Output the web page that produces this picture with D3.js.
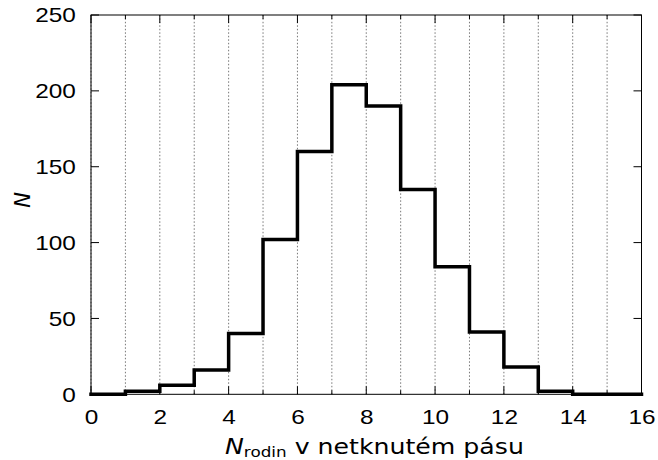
<!DOCTYPE html>
<html><head><meta charset="utf-8">
<script src="https://cdn.jsdelivr.net/npm/d3@7"></script>
<style>body{margin:0;background:#fff}</style>
</head><body>
<svg id="c" width="658" height="460"></svg>
<script>
const binStarts = [0,1,2,3,4,5,6,7,8,9,10,11,12,13,14,15];
const counts = [0,2,6,16,40,102,160,204,190,135,84,41,18,2,0,0];
const xTicks = [0,2,4,6,8,10,12,14,16];
const yTicks = [0,50,100,150,200,250];

const W = 658, H = 460;
const m = {l:91, r:658-641.5, t:15, b:460-394.3};
const svg = d3.select("#c");
const x = d3.scaleLinear().domain([0,16]).range([m.l, W-m.r]);
const y = d3.scaleLinear().domain([0,250]).range([H-m.b, m.t]);
const SX = 1.16; // horizontal stretch of text as in the reference

// grid
const g = svg.append("g");
g.selectAll("line.grid").data(d3.range(0,17)).join("line")
  .attr("x1", d=>x(d)).attr("x2", d=>x(d))
  .attr("y1", y(0)).attr("y2", y(250))
  .attr("stroke","#777").attr("stroke-width",1).attr("stroke-dasharray","1.5,2");

// ticks
const tickLabelFont = "Liberation Sans, Arial, sans-serif";
const xt = svg.append("g").attr("transform",`translate(0,${y(0)})`)
  .call(d3.axisBottom(x).tickValues(xTicks).tickSize(0).tickPadding(15).tickFormat(d3.format("d")));
xt.select(".domain").remove();
xt.selectAll("text").attr("font-family",tickLabelFont).attr("font-size",21).attr("fill","#000")
  .attr("transform",`scale(${SX},1)`);

const yt = svg.append("g").attr("transform",`translate(${x(0)},0)`)
  .call(d3.axisLeft(y).tickValues(yTicks).tickSize(0).tickPadding(13).tickFormat(d3.format("d")));
yt.select(".domain").remove();
yt.selectAll("text").attr("font-family",tickLabelFont).attr("font-size",21).attr("fill","#000")
  .attr("transform",`scale(${SX},1)`);

// inward tick marks
const tk = svg.append("g").attr("stroke","#000").attr("stroke-width",1);
d3.range(0,17).forEach(v=>{
  const len = v%2===0 ? 8 : 4;
  tk.append("line").attr("x1",x(v)).attr("x2",x(v)).attr("y1",y(0)).attr("y2",y(0)-len);
  tk.append("line").attr("x1",x(v)).attr("x2",x(v)).attr("y1",y(250)).attr("y2",y(250)+len);
});
yTicks.forEach(v=>{
  tk.append("line").attr("x1",x(0)).attr("x2",x(0)+8).attr("y1",y(v)).attr("y2",y(v));
  tk.append("line").attr("x1",x(16)).attr("x2",x(16)-8).attr("y1",y(v)).attr("y2",y(v));
});

// frame
svg.append("rect").attr("x",x(0)).attr("y",y(250)).attr("width",x(16)-x(0)).attr("height",y(0)-y(250))
  .attr("fill","none").attr("stroke","#000").attr("stroke-width",1);

// step histogram
const pts = binStarts.map((b,i)=>[b,counts[i]]);
pts.push([binStarts[binStarts.length-1]+1, counts[counts.length-1]]);
const line = d3.line().x(d=>x(d[0])).y(d=>y(d[1])).curve(d3.curveStepAfter);
svg.append("path").attr("d",line(pts)).attr("fill","none").attr("stroke","#000")
  .attr("stroke-width",3.5).attr("stroke-linejoin","miter").attr("stroke-linecap","square");

// axis labels
const lab = svg.append("g").attr("transform","translate(225,454)").append("text")
  .attr("transform",`scale(${SX+0.04},1)`).attr("text-anchor","start")
  .attr("font-family","DejaVu Sans, sans-serif").attr("font-size",21);
lab.append("tspan").attr("font-style","italic").text("N");
lab.append("tspan").attr("font-size",14).attr("dy",3).text("rodin");
lab.append("tspan").attr("dy",-3).text(" v netknutém pásu");

svg.append("text").attr("transform",`translate(30,200) rotate(-90)`)
  .attr("text-anchor","middle").attr("font-family","DejaVu Sans, sans-serif").attr("font-size",21)
  .attr("font-style","italic").text("N");
</script>
</body></html>
